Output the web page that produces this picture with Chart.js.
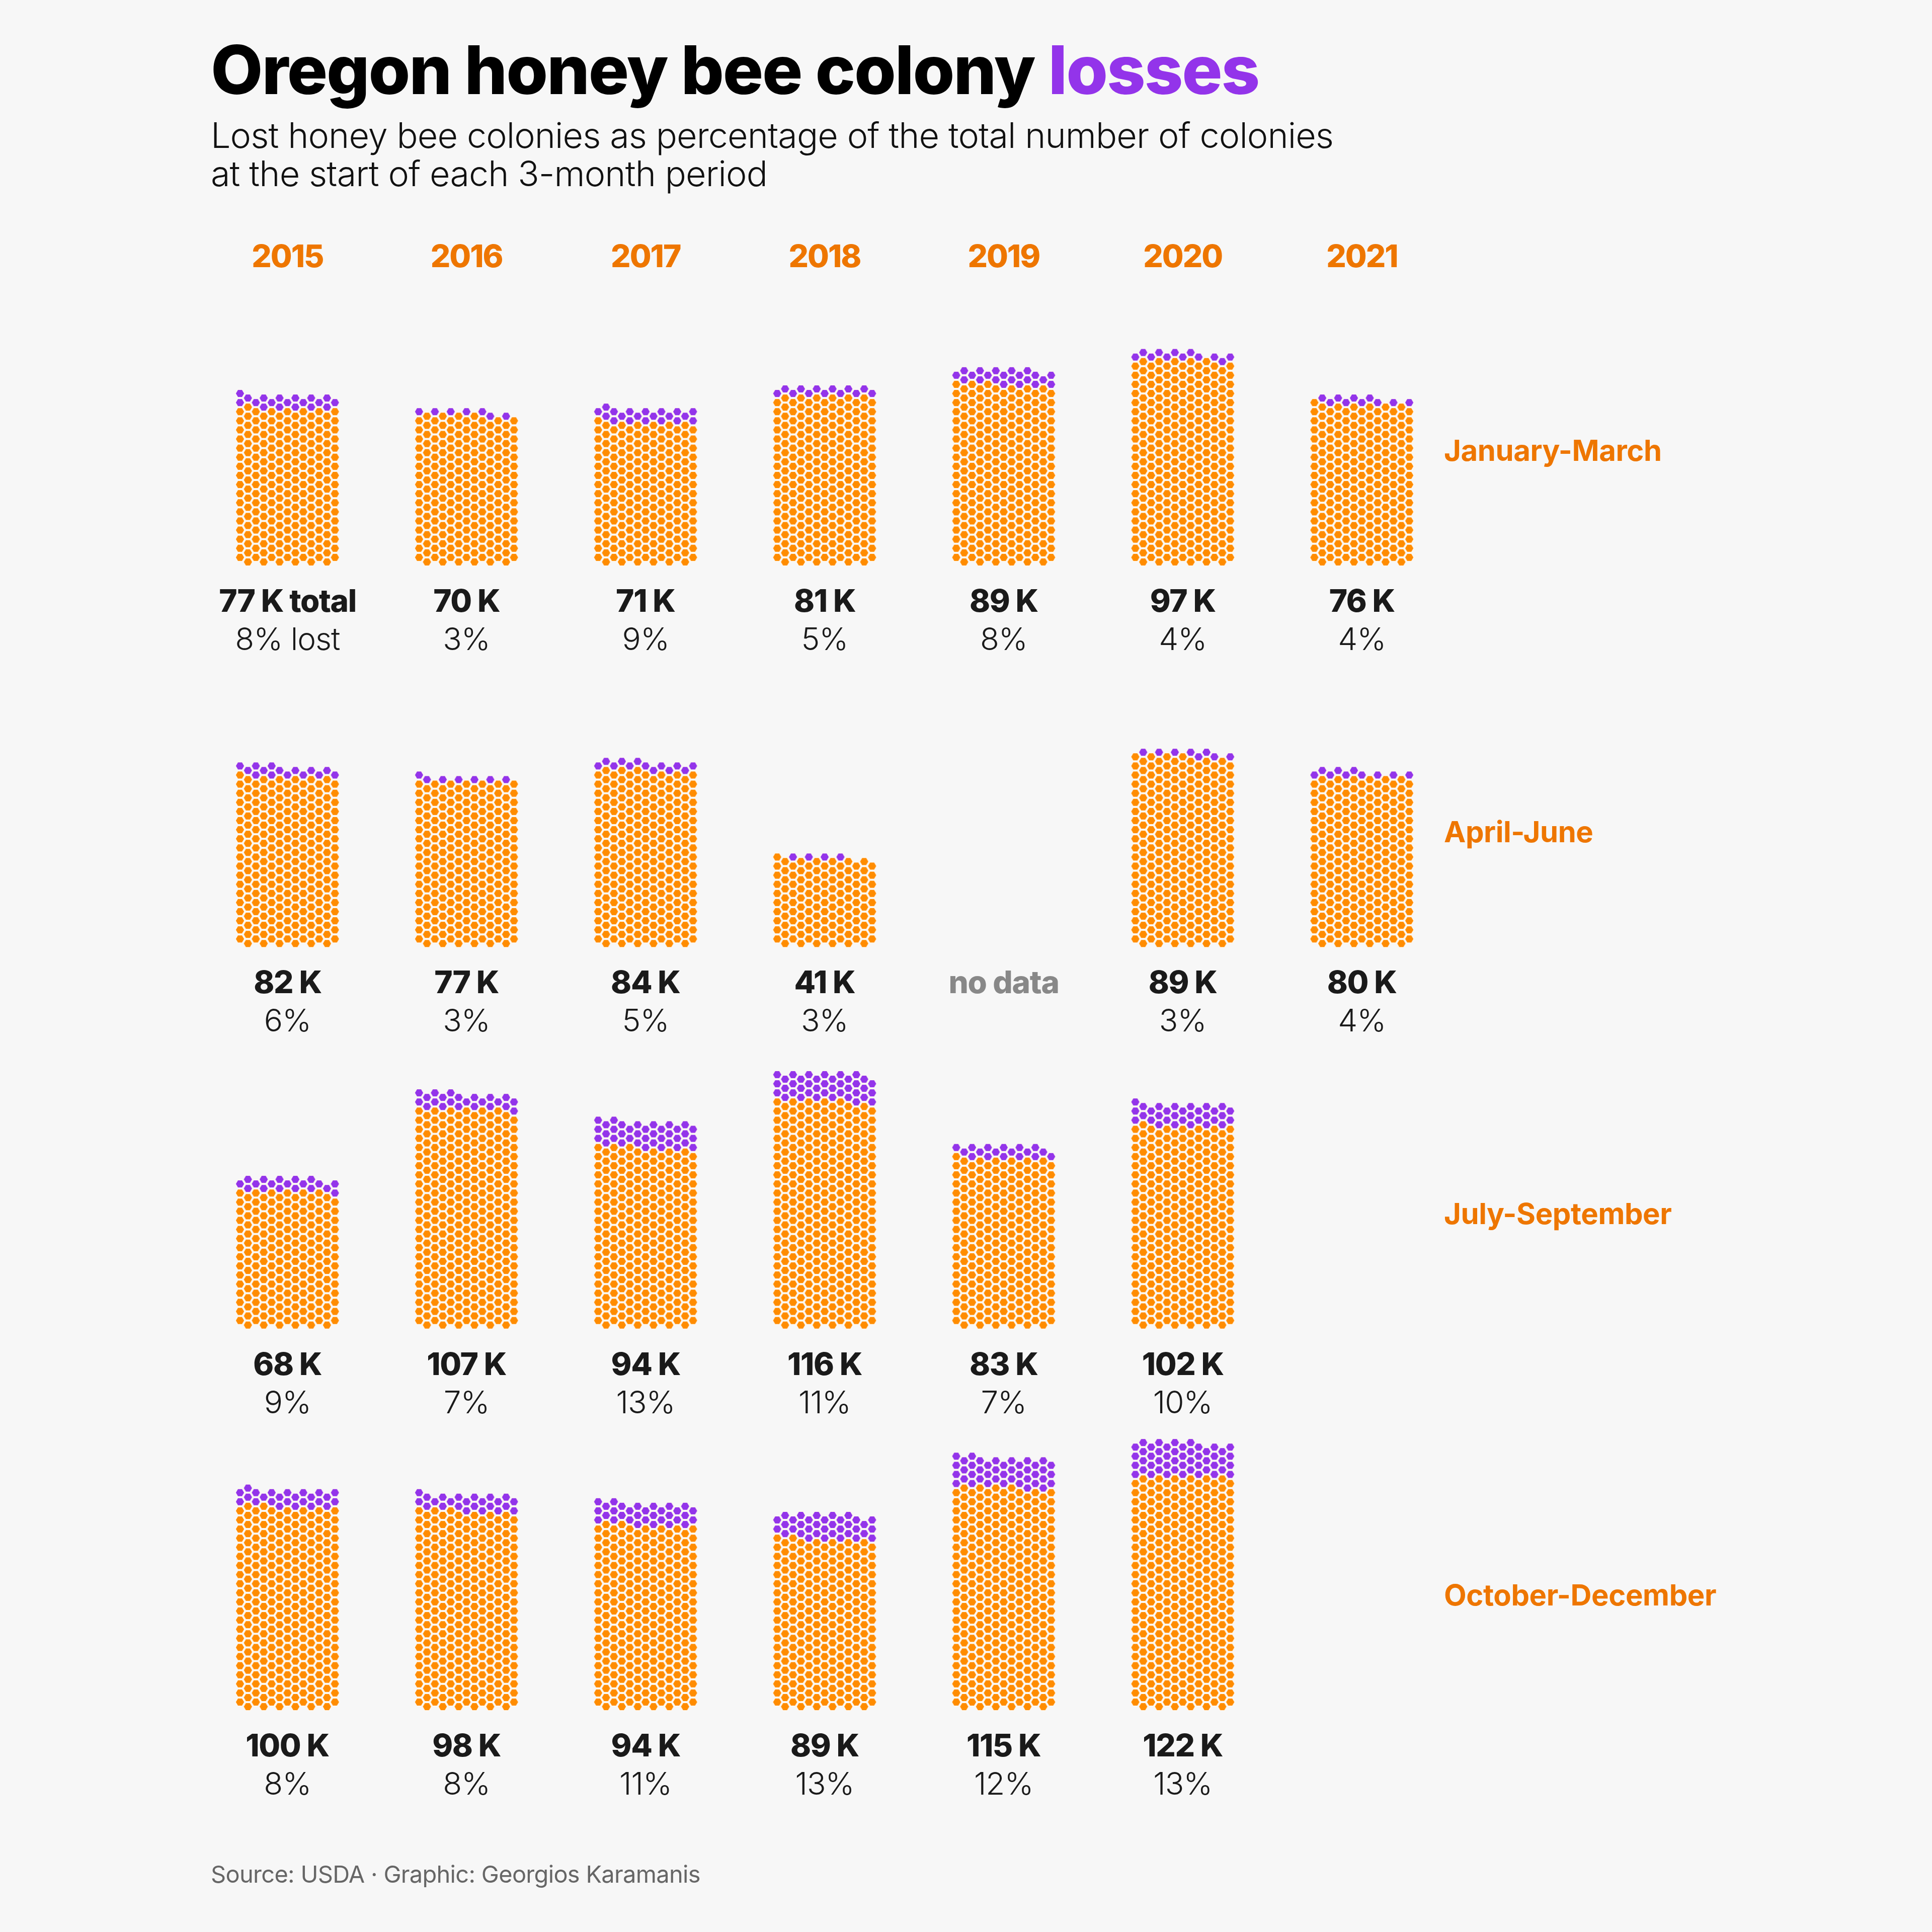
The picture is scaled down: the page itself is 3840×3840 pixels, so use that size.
<!DOCTYPE html>
<html>
<head>
<meta charset="utf-8">
<script src="https://cdn.jsdelivr.net/npm/chart.js@4.4.0/dist/chart.umd.min.js"></script>
<style>
  html, body { margin: 0; padding: 0; background: #F7F7F7; }
  #wrap { position: relative; width: 3840px; height: 3840px; overflow: hidden; font-family: Inter, "Noto Sans", sans-serif; }
  #c { position: absolute; left: 0; top: 0; }
  .t { position: absolute; white-space: nowrap; line-height: 1; }
</style>
</head>
<body>
<div id="wrap">
  <canvas id="c" width="3840" height="3840"></canvas>
</div>
<script>
// ---------------- DATA ----------------
const years = ['2015', '2016', '2017', '2018', '2019', '2020', '2021'];
const quarters = ['January-March', 'April-June', 'July-September', 'October-December'];

// total colonies at start of period (thousands); null = no data
const totalK_JanMar = [77, 70, 71, 81, 89, 97, 76];
const totalK_AprJun = [82, 77, 84, 41, null, 89, 80];
const totalK_JulSep = [68, 107, 94, 116, 83, 102, null];
const totalK_OctDec = [100, 98, 94, 89, 115, 122, null];

// percentage of colonies lost
const lostPct_JanMar = [8, 3, 9, 5, 8, 4, 4];
const lostPct_AprJun = [6, 3, 5, 3, null, 3, 4];
const lostPct_JulSep = [9, 7, 13, 11, 7, 10, null];
const lostPct_OctDec = [8, 8, 11, 13, 12, 13, null];

// cells that are explicitly marked "no data"
const noDataLabel_AprJun = ['2019'];

// colonies represented by one hexagon
const COLONIES_PER_HEX = 320;

const totals = [totalK_JanMar, totalK_AprJun, totalK_JulSep, totalK_OctDec];
const pcts = [lostPct_JanMar, lostPct_AprJun, lostPct_JulSep, lostPct_OctDec];

// ---------------- LAYOUT (grid units) ----------------
const COLS = 13;             // hexagons per row
const COL_PX = 15.72;        // px per x unit (one hex column)
const HALF_ROW_PX = 9.05;    // px per y unit (half hex row)
const GROUP_X = 22.64;       // x units between years
const GROUP_Y = 83.8;        // y units between quarters
const X0_PX = 477;           // pixel of first column centre
const Y0_PX = 3383;          // pixel of bottom level of last quarter
const W = 3840, H = 3840;

const X_MIN = -X0_PX / COL_PX, X_MAX = X_MIN + W / COL_PX;
const Y_MIN = -(H - Y0_PX) / HALF_ROW_PX, Y_MAX = Y_MIN + H / HALF_ROW_PX;

// ---------------- BUILD POINTS ----------------
const keptPts = [], lostPts = [];
quarters.forEach((qName, q) => {
  years.forEach((yr, yi) => {
    const t = totals[q][yi];
    if (t == null) return;
    const n = Math.round(t * 1000 / COLONIES_PER_HEX);
    const lost = Math.round(n * pcts[q][yi] / 100);
    let i = 0;
    for (let L = -1; i < n; L++) {
      const parity = ((L % 2) + 2) % 2;
      for (let c = parity; c < COLS && i < n; c += 2) {
        const pt = { x: yi * GROUP_X + c, y: (3 - q) * GROUP_Y + L };
        if (i >= n - lost) lostPts.push(pt); else keptPts.push(pt);
        i++;
      }
    }
  });
});

function hexImage(fill) {
  const cv = document.createElement('canvas');
  cv.width = 24; cv.height = 24;
  const g = cv.getContext('2d');
  const R = 8.9, cx = 12, cy = 12;
  g.beginPath();
  for (let k = 0; k < 6; k++) {
    const a = Math.PI / 3 * k;
    const px = cx + R * Math.cos(a), py = cy + R * Math.sin(a);
    if (k === 0) g.moveTo(px, py); else g.lineTo(px, py);
  }
  g.closePath();
  g.fillStyle = fill;
  g.fill();
  g.lineWidth = 1.4;
  g.strokeStyle = 'rgba(255,250,242,0.95)';
  g.stroke();
  return cv;
}

const ORANGE = '#FF8C00';
const PURPLE = '#9334EA';

const chart = new Chart(document.getElementById('c').getContext('2d'), {
  type: 'scatter',
  data: {
    datasets: [
      { label: 'Remaining colonies', data: keptPts, pointStyle: hexImage(ORANGE), pointRadius: 9, clip: false },
      { label: 'Lost colonies', data: lostPts, pointStyle: hexImage(PURPLE), pointRadius: 9, clip: false }
    ]
  },
  options: {
    responsive: false,
    animation: false,
    events: [],
    layout: { padding: 0, autoPadding: false },
    plugins: { legend: { display: false }, tooltip: { enabled: false } },
    scales: {
      x: { type: 'linear', display: false, min: X_MIN, max: X_MAX },
      y: { type: 'linear', display: false, min: Y_MIN, max: Y_MAX }
    }
  }
});

// ---------------- TEXT ----------------
const wrap = document.getElementById('wrap');
const placed = [];
function addText(html, x, baseline, css, align) {
  const d = document.createElement('div');
  d.className = 't';
  d.innerHTML = html + '<span style="display:inline-block;width:0;height:0;vertical-align:baseline"></span>';
  Object.assign(d.style, css);
  wrap.appendChild(d);
  placed.push({ d, x, baseline, align });
  return d;
}
function layoutText() {
  placed.forEach(p => {
    const probe = p.d.lastChild;
    const off = probe.offsetTop;
    const w = p.d.offsetWidth;
    p.d.style.top = (p.baseline - off) + 'px';
    p.d.style.left = (p.align === 'center' ? p.x - w / 2 : p.x) + 'px';
  });
}

const TEXT_ORANGE = '#EE7600';
addText('Oregon honey bee colony <span style="color:' + PURPLE + '">losses</span>', 419, 187,
  { fontSize: '134px', fontWeight: '800', color: '#000', letterSpacing: '-2.2px' }, 'left');
addText('Lost honey bee colonies as percentage of the total number of colonies', 419, 294,
  { fontSize: '70px', fontWeight: '300', color: '#111', letterSpacing: '-0.9px' }, 'left');
addText('at the start of each 3-month period', 419, 370,
  { fontSize: '70px', fontWeight: '300', color: '#111', letterSpacing: '-0.9px' }, 'left');
addText('Source: USDA · Graphic: Georgios Karamanis', 419, 3742,
  { fontSize: '47px', fontWeight: '400', color: '#666', letterSpacing: '-0.7px' }, 'left');

const xs = chart.scales.x, ys = chart.scales.y;
years.forEach((yr, yi) => {
  const cx = xs.getPixelForValue(yi * GROUP_X + (COLS - 1) / 2);
  addText(yr, cx, 531, { fontSize: '62px', fontWeight: '800', color: TEXT_ORANGE, letterSpacing: '-2px' }, 'center');
});
quarters.forEach((qName, q) => {
  const base = ys.getPixelForValue((3 - q) * GROUP_Y);
  addText(qName, 2870, base - 192, { fontSize: '58px', fontWeight: '700', color: TEXT_ORANGE, letterSpacing: '-0.4px' }, 'left');
  years.forEach((yr, yi) => {
    const cx = xs.getPixelForValue(yi * GROUP_X + (COLS - 1) / 2);
    const t = totals[q][yi];
    if (t == null) {
      if (q === 1 && noDataLabel_AprJun.includes(yr)) {
        addText('no data', cx, base + 108, { fontSize: '62px', fontWeight: '800', color: '#888', letterSpacing: '-1.2px' }, 'center');
      }
      return;
    }
    const first = q === 0 && yi === 0;
    addText(t + ' K' + (first ? ' total' : ''), cx, base + 108,
      { fontSize: '62px', fontWeight: '800', color: '#1A1A1A', letterSpacing: '-1.4px' }, 'center');
    addText(pcts[q][yi] + '%' + (first ? ' lost' : ''), cx, base + 184,
      { fontSize: '62px', fontWeight: '300', color: '#1A1A1A', letterSpacing: '-1px' }, 'center');
  });
});
layoutText();
if (document.fonts && document.fonts.ready) document.fonts.ready.then(layoutText);
</script>
</body>
</html>
